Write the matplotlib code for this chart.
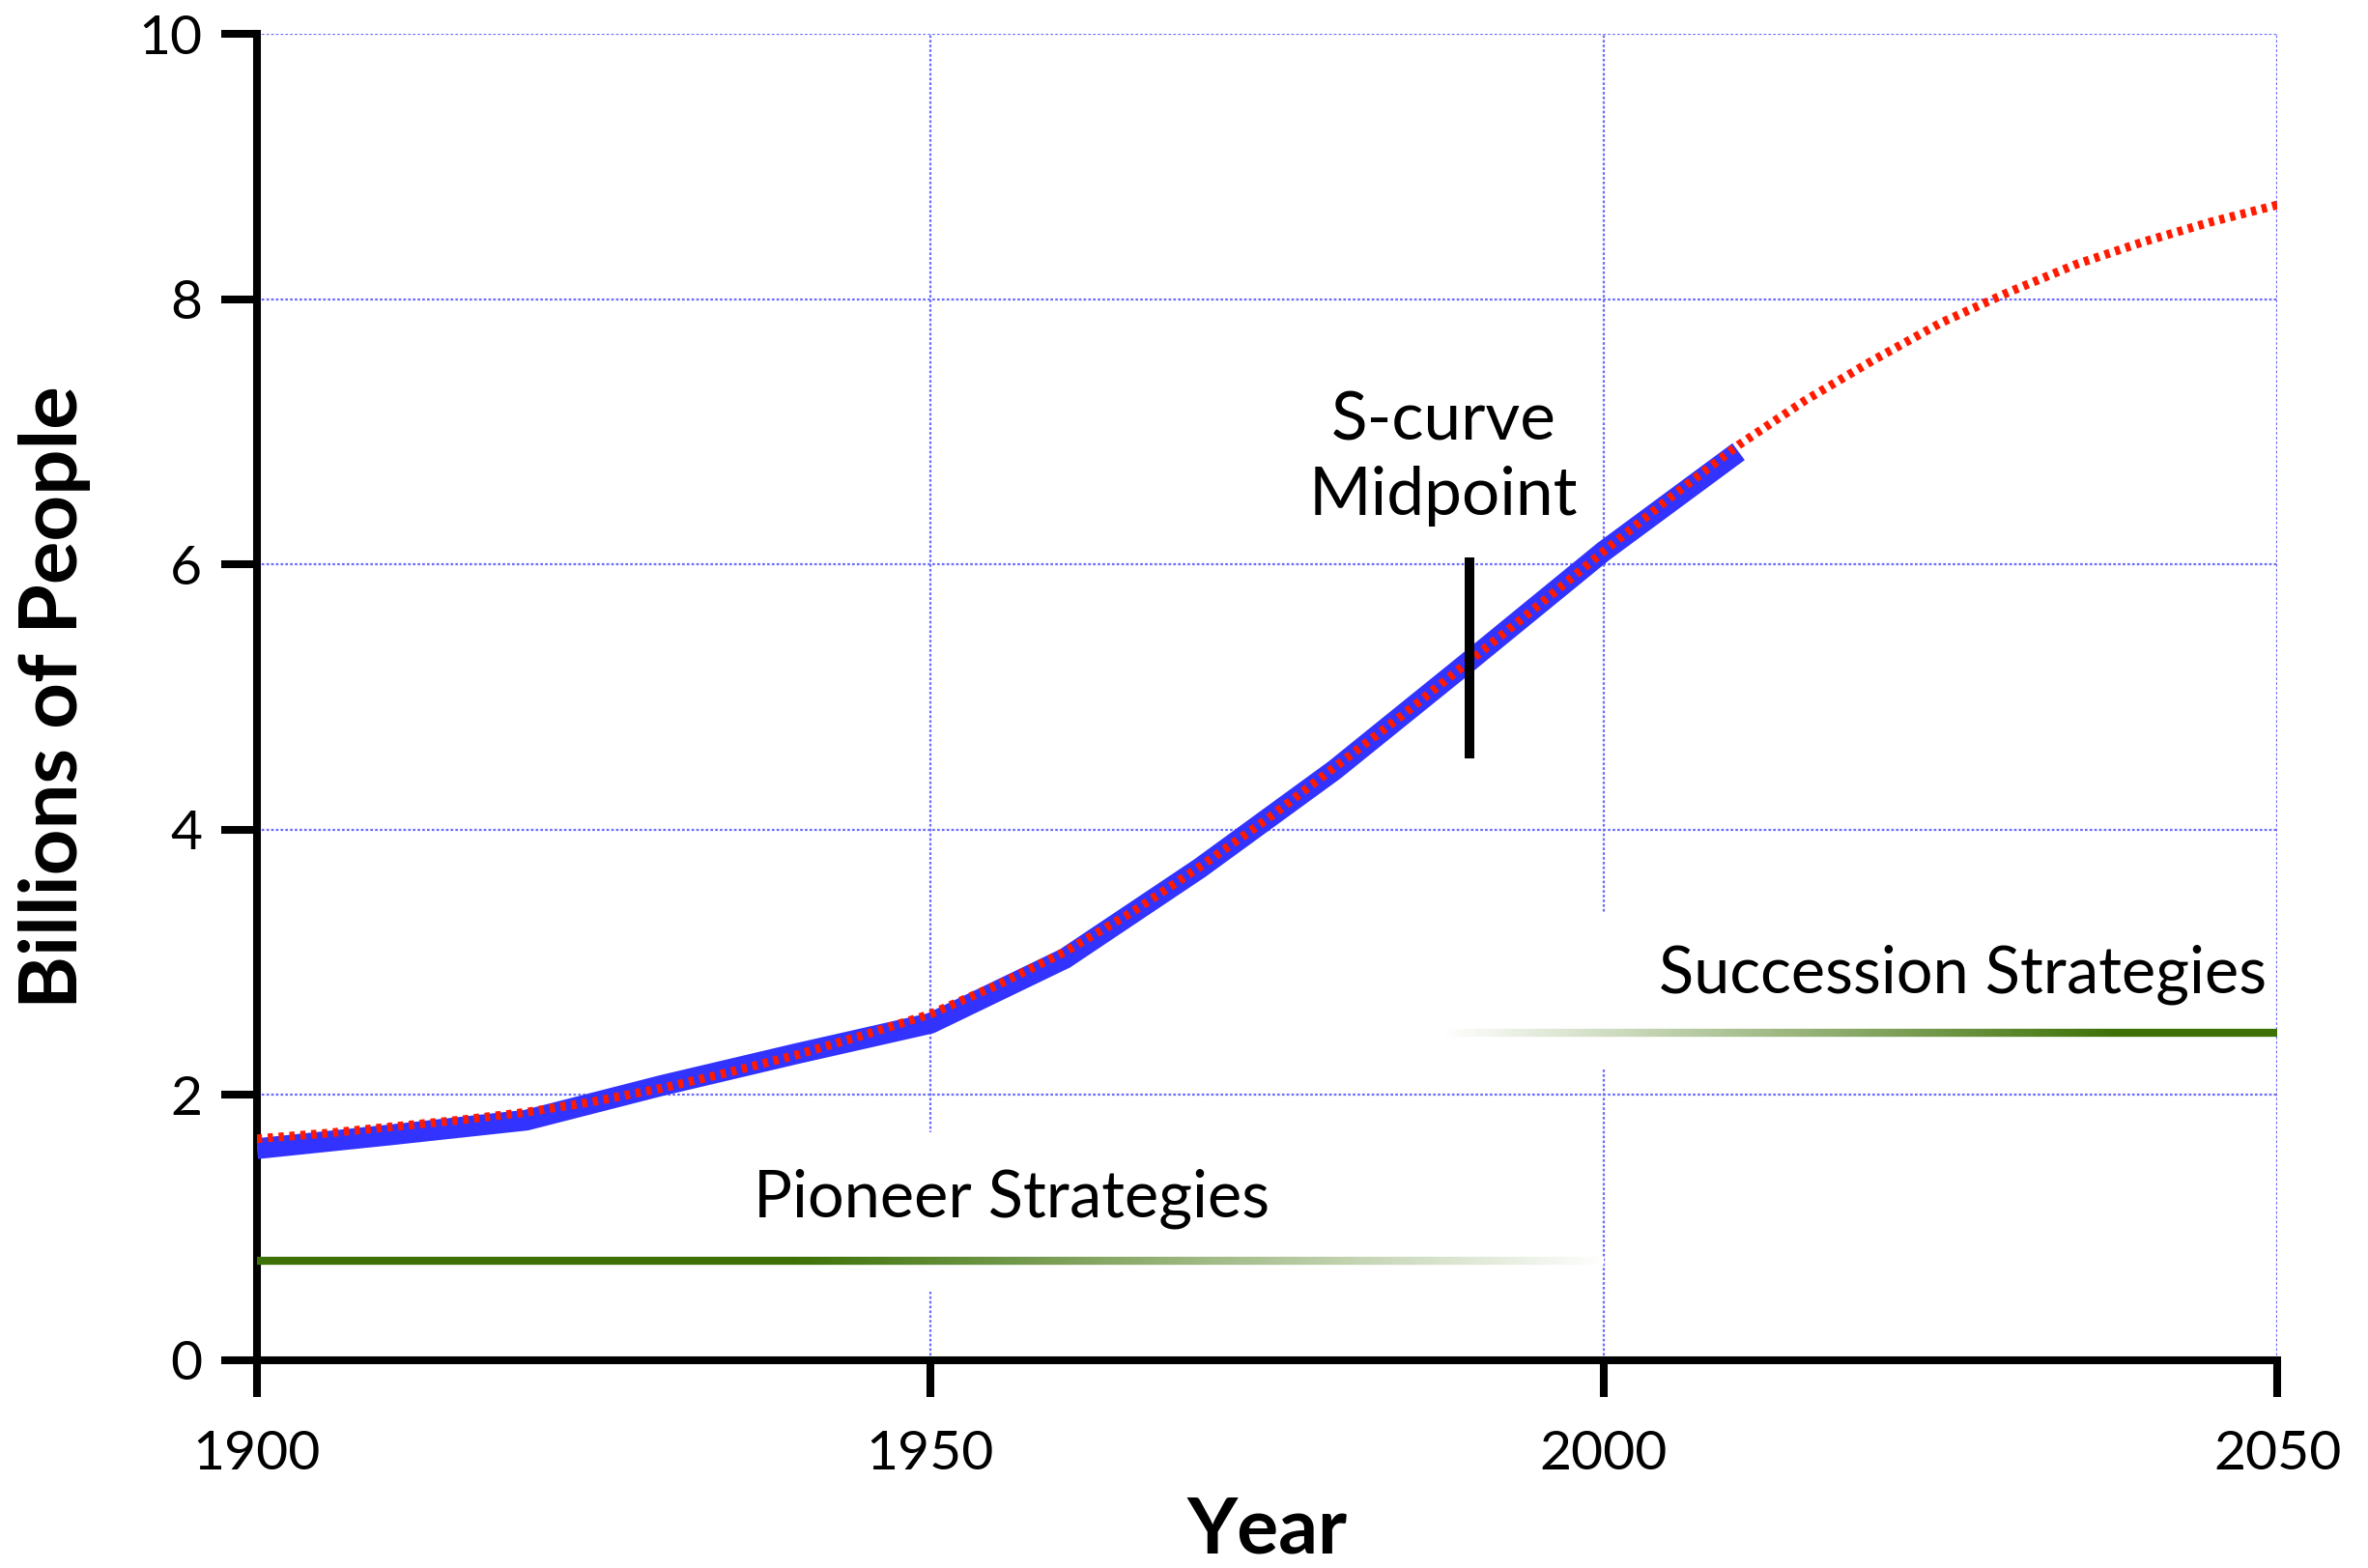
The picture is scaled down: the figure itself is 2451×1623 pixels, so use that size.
import numpy as np
import matplotlib
matplotlib.use('Agg')
import matplotlib.pyplot as plt
from matplotlib.collections import LineCollection
from matplotlib.colors import to_rgba
from matplotlib.patches import Rectangle

plt.rcParams['font.family'] = ['Lato', 'DejaVu Sans']

# world population, billions (thick blue line)
pop_years = [1900, 1910, 1920, 1930, 1940, 1950, 1960, 1970, 1980, 1990, 2000, 2010]
pop_values = [1.595, 1.70, 1.81, 2.07, 2.31, 2.54, 3.03, 3.71, 4.45, 5.27, 6.10, 6.85]

# s-curve fit (red dotted line)
fit_years = [1900, 1905, 1910, 1915, 1920, 1925, 1930, 1935, 1940, 1945, 1950, 1955,
             1960, 1965, 1970, 1975, 1980, 1985, 1990, 1995, 2000, 2005, 2010, 2015,
             2020, 2025, 2030, 2035, 2040, 2045, 2050]
fit_values = [1.67, 1.71, 1.76, 1.81, 1.87, 1.95, 2.05, 2.17, 2.30, 2.45, 2.61, 2.83,
              3.08, 3.38, 3.72, 4.08, 4.47, 4.86, 5.27, 5.68, 6.10, 6.51, 6.90, 7.24,
              7.54, 7.82, 8.05, 8.26, 8.43, 8.58, 8.71]

# strategy bars: (start, end) years, level, fade ramp
pioneer_years = [1900, 2000]
pioneer_level = 0.75
pioneer_ramp = ([1900, 1940, 2000], [1, 1, 0])
succession_years = [1988, 2050]
succession_level = 2.47
succession_ramp = ([1988, 2038, 2050], [0, 1, 1])

midpoint_year = 1990
midpoint_span = [4.54, 6.05]

x_ticks = [1900, 1950, 2000, 2050]
y_ticks = [0, 2, 4, 6, 8, 10]

green = '#3d7106'


def fade_line(ax, span, level, ramp, color, lw):
    xs = np.linspace(span[0], span[1], 400)
    segs = [[(a, level), (b, level)] for a, b in zip(xs[:-1], xs[1:])]
    mid = (xs[:-1] + xs[1:]) / 2
    a = np.interp(mid, ramp[0], ramp[1])
    c = np.array(to_rgba(color))[:3]
    cols = [tuple(ai * c + (1 - ai) * np.ones(3)) for ai in a]
    lc = LineCollection(segs, colors=cols, linewidths=lw, capstyle='butt', zorder=3)
    ax.add_collection(lc)


fig = plt.figure(figsize=(24.51, 16.23), dpi=100)
ax = fig.add_axes([0.1085, 0.1325, 0.8532, 0.8459])

ax.set_xlim(1900, 2050)
ax.set_ylim(0, 10)
ax.set_xticks(x_ticks)
ax.set_yticks(y_ticks)

ax.set_axisbelow(True)
ax.grid(True, color='#6b6bff', lw=1.6, linestyle=(0, (1.2, 1.0)))

for s in ['top', 'right']:
    ax.spines[s].set_visible(False)
for s in ['left', 'bottom']:
    ax.spines[s].set_linewidth(5.8)
    ax.spines[s].set_capstyle('projecting')

ax.tick_params(axis='both', direction='out', length=27, width=5.8, labelsize=41)
ax.tick_params(axis='x', pad=25)
ax.tick_params(axis='y', pad=14)

# white boxes behind the labels break the grid lines
ax.add_patch(Rectangle((1925, 0.52), 60, 1.2, facecolor='white', edgecolor='none', zorder=1))
ax.add_patch(Rectangle((1993, 2.21), 54, 1.16, facecolor='white', edgecolor='none', zorder=1))

fade_line(ax, pioneer_years, pioneer_level, pioneer_ramp, green, 6)
fade_line(ax, succession_years, succession_level, succession_ramp, green, 6)

ax.plot(pop_years, pop_values, color='#3333ff', lw=15.5, solid_capstyle='butt', zorder=4)
ax.plot(fit_years, fit_values, color='#ff1a00', lw=6.5, linestyle=(0, (0.6, 0.65)),
        dash_capstyle='butt', zorder=5)

ax.plot([midpoint_year, midpoint_year], midpoint_span, color='black', lw=7.2,
        solid_capstyle='butt', zorder=6)

ax.text(1956, 1.08, 'Pioneer Strategies', ha='center', va='baseline', fontsize=48, zorder=6)
ax.text(2049.2, 2.77, 'Succession Strategies', ha='right', va='baseline', fontsize=48, zorder=6)
ax.text(1988.1, 6.37, 'S-curve\nMidpoint', ha='center', va='baseline', fontsize=50,
        linespacing=1.3, zorder=6)

ax.set_xlabel('Year', fontsize=58, fontweight='bold')
ax.xaxis.set_label_coords(0.5, -0.102)
ax.set_ylabel('Billions of People', fontsize=60, fontweight='bold')
ax.yaxis.set_label_coords(-0.082, 0.5)

fig.savefig('out.png', dpi=100)
